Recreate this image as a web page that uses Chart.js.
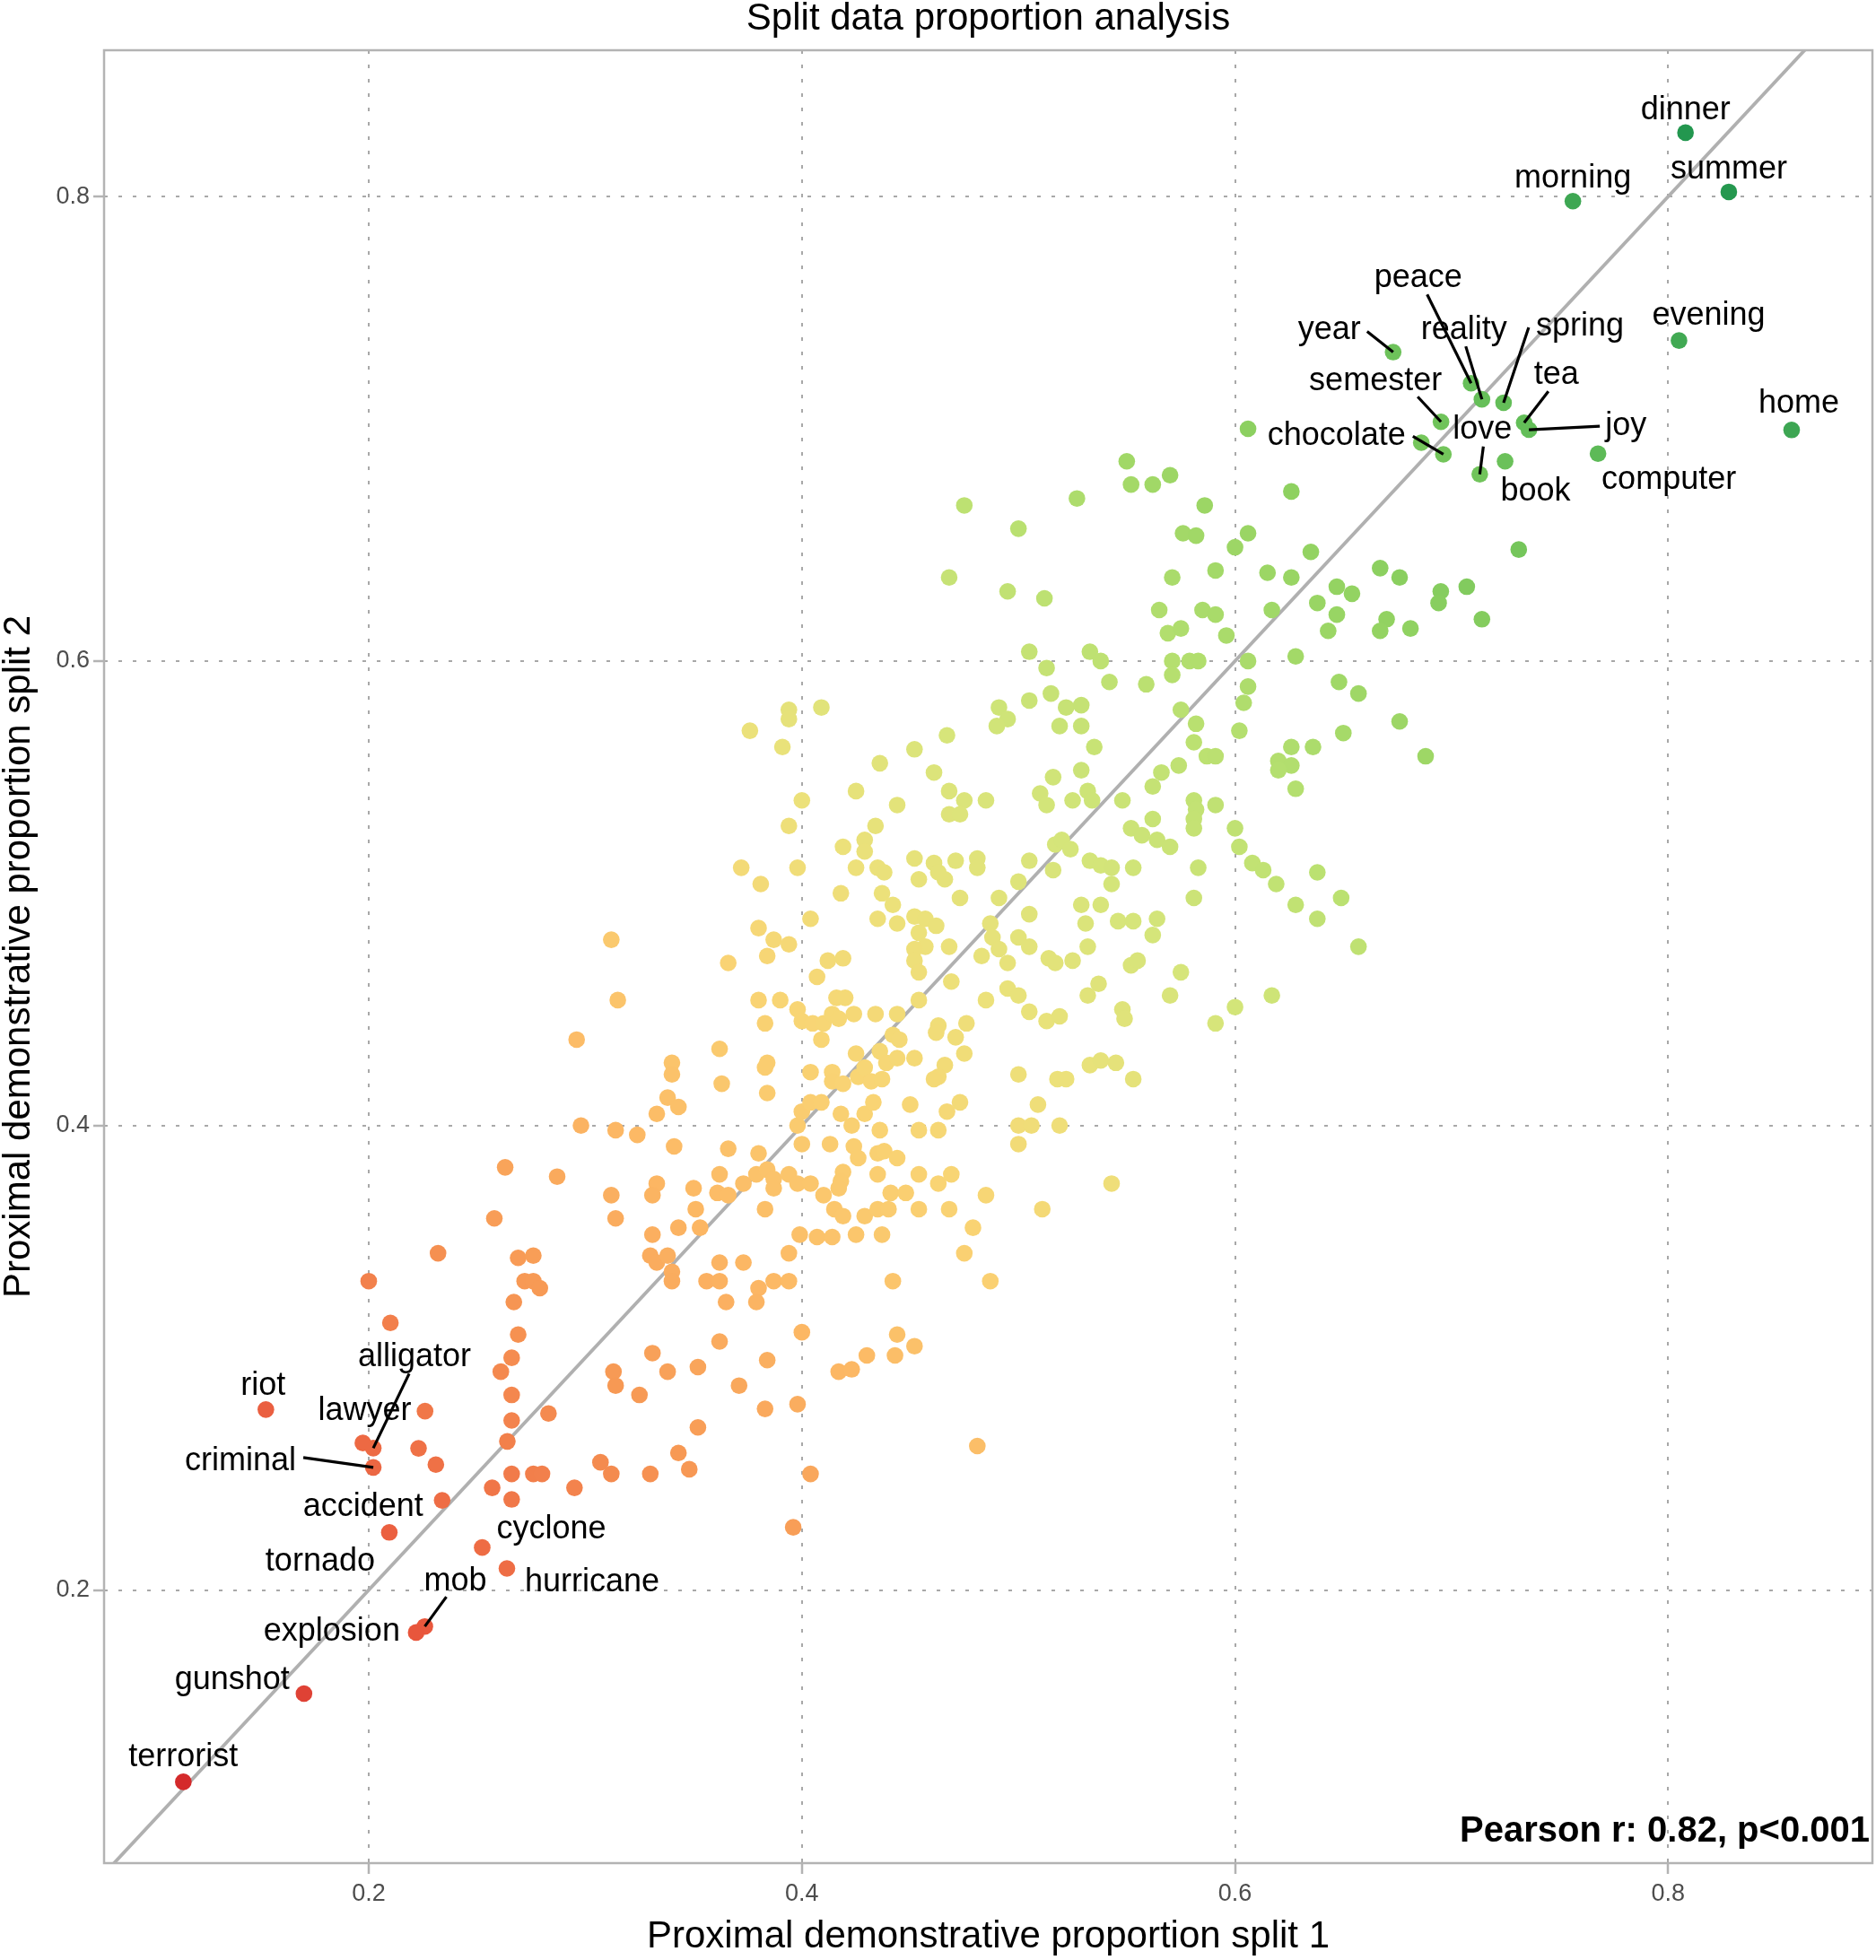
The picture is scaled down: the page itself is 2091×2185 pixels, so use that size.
<!DOCTYPE html>
<html>
<head>
<meta charset="utf-8">
<title>Split data proportion analysis</title>
<script src="https://cdn.jsdelivr.net/npm/chart.js@4.4.1/dist/chart.umd.min.js"></script>
<style>
  html, body { margin: 0; padding: 0; background: #fff; }
  canvas { display: block; }
</style>
</head>
<body>
<canvas id="propChart" width="2091" height="2185"></canvas>
<script>
// axis settings
const xLimits = [0.0778, 0.8943];
const yLimits = [0.0824, 0.8630];
const tickValues = [0.2, 0.4, 0.6, 0.8];
const tickLabels = ['0.2', '0.4', '0.6', '0.8'];

// unlabelled words: [split 1, split 2]
const cloudPoints = [
  // upper cloud
  [0.606,0.700],[0.626,0.673],[0.731,0.648],[0.550,0.686],[0.552,0.676],[0.562,0.676],[0.570,0.680],[0.475,0.667],[0.527,0.670],[0.500,0.657],
  [0.586,0.667],[0.576,0.655],[0.582,0.654],[0.606,0.655],[0.600,0.649],[0.635,0.647],[0.468,0.636],[0.495,0.630],[0.512,0.627],[0.571,0.636],
  [0.591,0.639],[0.615,0.638],[0.626,0.636],[0.667,0.640],[0.676,0.636],[0.647,0.632],[0.654,0.629],[0.695,0.630],[0.694,0.625],[0.707,0.632],
  [0.714,0.618],[0.565,0.622],[0.585,0.622],[0.591,0.620],[0.617,0.622],[0.638,0.625],[0.647,0.620],[0.670,0.618],[0.643,0.613],[0.667,0.613],
  [0.681,0.614],[0.569,0.612],[0.575,0.614],[0.596,0.611],[0.505,0.604],[0.513,0.597],[0.533,0.604],[0.538,0.600],[0.571,0.600],[0.579,0.600],
  [0.583,0.600],[0.606,0.600],[0.628,0.602],[0.571,0.594],[0.542,0.591],[0.559,0.590],[0.606,0.589],[0.648,0.591],[0.657,0.586],[0.515,0.586],
  [0.505,0.583],[0.491,0.580],[0.522,0.580],[0.529,0.581],[0.575,0.579],[0.604,0.582],[0.495,0.575],[0.490,0.572],[0.519,0.572],[0.529,0.572],
  [0.582,0.573],[0.602,0.570],[0.676,0.574],[0.650,0.569],[0.467,0.568],[0.535,0.563],[0.581,0.565],[0.587,0.559],[0.591,0.559],[0.626,0.563],
  [0.636,0.563],[0.688,0.559],[0.620,0.557],[0.626,0.555],[0.620,0.553],[0.628,0.545],[0.529,0.553],[0.516,0.550],[0.574,0.555],[0.566,0.552],
  [0.562,0.546],[0.468,0.544],[0.475,0.540],[0.485,0.540],[0.510,0.543],[0.513,0.538],[0.525,0.540],[0.532,0.544],[0.534,0.540],[0.548,0.540],
  [0.581,0.540],[0.582,0.536],[0.591,0.538],[0.468,0.534],[0.473,0.534],[0.581,0.532],[0.581,0.528],[0.562,0.532],[0.552,0.528],[0.557,0.525],
  [0.564,0.523],[0.570,0.520],[0.600,0.528],[0.602,0.520],[0.517,0.521],[0.520,0.523],[0.524,0.519],[0.471,0.514],[0.481,0.515],[0.481,0.511],
  [0.505,0.514],[0.533,0.514],[0.538,0.512],[0.543,0.511],[0.553,0.511],[0.583,0.511],[0.608,0.513],[0.613,0.510],[0.619,0.504],[0.638,0.509],
  [0.516,0.510],[0.466,0.506],[0.500,0.505],[0.543,0.504],[0.473,0.498],[0.491,0.498],[0.581,0.498],[0.649,0.498],[0.628,0.495],[0.529,0.495],
  [0.538,0.495],[0.505,0.491],[0.531,0.487],[0.546,0.488],[0.553,0.488],[0.564,0.489],[0.638,0.489],[0.487,0.487],[0.562,0.482],[0.488,0.481],
  [0.500,0.481],[0.505,0.477],[0.491,0.476],[0.532,0.477],[0.657,0.477],[0.468,0.477],[0.483,0.473],[0.495,0.470],[0.514,0.472],[0.517,0.470],
  [0.525,0.471],[0.552,0.469],[0.555,0.471],[0.575,0.466],[0.469,0.462],[0.537,0.461],[0.495,0.459],[0.500,0.456],[0.532,0.456],[0.570,0.456],
  [0.617,0.456],[0.600,0.451],[0.548,0.450],[0.485,0.454],[0.505,0.449],[0.513,0.445],[0.519,0.447],[0.476,0.444],[0.549,0.446],[0.591,0.444],
  [0.686,0.694],
  // middle cloud
  [0.394,0.579],[0.394,0.575],[0.409,0.580],[0.376,0.570],[0.391,0.563],[0.400,0.540],[0.394,0.529],[0.436,0.556],[0.452,0.562],[0.461,0.552],
  [0.425,0.544],[0.444,0.538],[0.434,0.529],[0.419,0.520],[0.429,0.523],[0.429,0.518],[0.425,0.511],[0.435,0.511],[0.438,0.509],[0.452,0.515],
  [0.461,0.513],[0.463,0.509],[0.454,0.506],[0.398,0.511],[0.372,0.511],[0.381,0.504],[0.418,0.500],[0.437,0.500],[0.442,0.495],[0.404,0.489],
  [0.380,0.485],[0.435,0.489],[0.444,0.487],[0.452,0.490],[0.457,0.489],[0.462,0.486],[0.387,0.480],[0.394,0.478],[0.384,0.473],[0.366,0.470],
  [0.454,0.483],[0.457,0.477],[0.452,0.476],[0.412,0.471],[0.419,0.472],[0.452,0.471],[0.454,0.466],[0.407,0.464],[0.312,0.480],[0.315,0.454],
  [0.296,0.437],[0.380,0.454],[0.390,0.454],[0.398,0.450],[0.416,0.455],[0.420,0.455],[0.383,0.444],[0.400,0.445],[0.405,0.444],[0.410,0.444],
  [0.414,0.448],[0.417,0.446],[0.424,0.448],[0.434,0.448],[0.444,0.448],[0.454,0.454],[0.409,0.437],[0.463,0.443],[0.462,0.440],[0.442,0.439],
  [0.445,0.437],[0.471,0.438],[0.475,0.431],[0.362,0.433],[0.340,0.427],[0.340,0.422],[0.363,0.418],[0.384,0.427],[0.383,0.425],[0.384,0.414],
  [0.425,0.431],[0.436,0.432],[0.439,0.427],[0.444,0.429],[0.452,0.429],[0.466,0.426],[0.463,0.421],[0.461,0.420],[0.404,0.423],[0.414,0.423],
  [0.414,0.419],[0.419,0.418],[0.426,0.421],[0.429,0.425],[0.432,0.419],[0.437,0.420],[0.500,0.422],[0.518,0.420],[0.522,0.420],[0.553,0.420],
  [0.533,0.426],[0.538,0.428],[0.545,0.427],[0.509,0.409],[0.338,0.412],[0.343,0.408],[0.333,0.405],[0.298,0.400],[0.314,0.398],[0.324,0.396],
  [0.341,0.391],[0.287,0.378],[0.366,0.390],[0.380,0.388],[0.379,0.379],[0.384,0.381],[0.387,0.377],[0.387,0.373],[0.394,0.379],[0.398,0.375],
  [0.362,0.379],[0.333,0.375],[0.331,0.370],[0.312,0.370],[0.314,0.360],[0.350,0.373],[0.361,0.371],[0.366,0.370],[0.373,0.375],[0.351,0.364],
  [0.343,0.356],[0.353,0.356],[0.331,0.353],[0.383,0.364],[0.330,0.344],[0.333,0.341],[0.338,0.344],[0.340,0.337],[0.340,0.333],[0.362,0.341],
  [0.373,0.341],[0.356,0.333],[0.362,0.333],[0.380,0.330],[0.387,0.333],[0.394,0.333],[0.394,0.345],[0.400,0.392],[0.398,0.400],[0.400,0.406],
  [0.404,0.410],[0.409,0.410],[0.418,0.405],[0.423,0.400],[0.429,0.405],[0.433,0.410],[0.413,0.392],[0.424,0.391],[0.426,0.386],[0.436,0.398],
  [0.435,0.388],[0.438,0.389],[0.444,0.386],[0.450,0.409],[0.454,0.398],[0.463,0.398],[0.467,0.406],[0.473,0.410],[0.419,0.380],[0.418,0.376],
  [0.404,0.375],[0.410,0.370],[0.435,0.379],[0.417,0.373],[0.415,0.364],[0.419,0.361],[0.429,0.361],[0.435,0.364],[0.440,0.364],[0.441,0.371],
  [0.448,0.371],[0.454,0.379],[0.454,0.364],[0.463,0.375],[0.469,0.379],[0.468,0.364],[0.485,0.370],[0.479,0.356],[0.475,0.345],[0.511,0.364],
  [0.543,0.375],[0.487,0.333],[0.442,0.333],[0.399,0.353],[0.407,0.352],[0.414,0.352],[0.425,0.353],[0.437,0.353],[0.500,0.400],[0.506,0.400],
  [0.519,0.400],[0.500,0.392],
  // lower cloud
  [0.263,0.382],[0.258,0.360],[0.232,0.345],[0.200,0.333],[0.210,0.315],[0.269,0.343],[0.276,0.344],[0.272,0.333],[0.276,0.333],[0.279,0.330],
  [0.267,0.324],[0.269,0.310],[0.266,0.300],[0.261,0.294],[0.266,0.284],[0.266,0.273],[0.264,0.264],[0.266,0.250],[0.257,0.244],[0.266,0.239],
  [0.276,0.250],[0.280,0.250],[0.283,0.276],[0.295,0.244],[0.226,0.277],[0.223,0.261],[0.231,0.254],[0.307,0.255],[0.312,0.250],[0.330,0.250],
  [0.343,0.259],[0.348,0.252],[0.404,0.250],[0.396,0.227],[0.352,0.270],[0.383,0.278],[0.398,0.280],[0.325,0.284],[0.313,0.294],[0.314,0.288],
  [0.338,0.294],[0.331,0.302],[0.352,0.296],[0.362,0.307],[0.371,0.288],[0.384,0.299],[0.400,0.311],[0.417,0.294],[0.423,0.295],[0.430,0.301],
  [0.443,0.301],[0.444,0.310],[0.452,0.305],[0.379,0.324],[0.365,0.324],[0.481,0.262]
];

// labelled words
const wordNames = ['dinner', 'morning', 'summer', 'evening', 'home', 'year', 'peace', 'reality', 'spring', 'tea',
  'joy', 'semester', 'chocolate', 'love', 'book', 'computer', 'riot', 'alligator', 'lawyer', 'criminal',
  'accident', 'tornado', 'cyclone', 'hurricane', 'mob', 'explosion', 'gunshot', 'terrorist'];
const wordSplit1 = [0.808, 0.756, 0.828, 0.805, 0.857, 0.673, 0.709, 0.714, 0.724, 0.7335,
  0.7357, 0.6951, 0.6962, 0.713, 0.7247, 0.7676, 0.1525, 0.2021, 0.1973, 0.2021,
  0.2339, 0.2095, 0.2524, 0.2638, 0.2259, 0.2219, 0.1701, 0.1144];
const wordSplit2 = [0.8275, 0.798, 0.802, 0.738, 0.6995, 0.733, 0.7196, 0.7127, 0.7112, 0.7026,
  0.6996, 0.703, 0.689, 0.6804, 0.686, 0.6893, 0.2777, 0.2611, 0.2633, 0.2528,
  0.2386, 0.2248, 0.2183, 0.2093, 0.1843, 0.1817, 0.1554, 0.1174];

const statText = 'Pearson r: 0.82, p<0.001';

// where each word label sits relative to its dot: [text dx, baseline dy, leader dx, leader dy]
const labelOffsets = {
  dinner: [0, -15], morning: [0, -15], summer: [0, -15], evening: [33, -18], home: [8, -19],
  year: [-71, -15, -29, -23], peace: [-59, -107, -49, -99], reality: [-20, -67, -18, -59],
  spring: [85, -75, 28, -84], tea: [36, -43, 27, -35], joy: [108, 6, 79, -4],
  semester: [-73, -35, -26, -28], chocolate: [-119, -10, -34, -20], love: [3, -40, 4, -31],
  book: [34, 44], computer: [79, 39],
  riot: [-3, -16], alligator: [46, -91, 40, -83], lawyer: [2, -26], criminal: [-148, 3, -78, -11],
  accident: [-88, 17], tornado: [-77, 43], cyclone: [77, -10], hurricane: [95, 26],
  mob: [34, -40, 24, -33], explosion: [-94, 9], gunshot: [-80, -5], terrorist: [0, -17]
};

const FONT = "'Liberation Sans', Arial, Helvetica, sans-serif";

// red - yellow - green ramp on the mean of both splits
const colourStops = [
  [0.115, [212, 42, 43]],
  [0.20, [232, 85, 60]],
  [0.25, [240, 118, 72]],
  [0.30, [247, 152, 84]],
  [0.36, [252, 185, 101]],
  [0.42, [249, 212, 116]],
  [0.47, [236, 225, 122]],
  [0.52, [214, 229, 122]],
  [0.58, [184, 224, 112]],
  [0.65, [142, 209, 96]],
  [0.72, [98, 189, 88]],
  [0.82, [34, 150, 79]]
];

function rampColour(v) {
  if (v <= colourStops[0][0]) return 'rgb(' + colourStops[0][1].join(',') + ')';
  for (let i = 1; i < colourStops.length; i++) {
    const [v1, c1] = colourStops[i];
    const [v0, c0] = colourStops[i - 1];
    if (v <= v1) {
      const t = (v - v0) / (v1 - v0);
      const c = c0.map((k, j) => Math.round(k + (c1[j] - k) * t));
      return 'rgb(' + c.join(',') + ')';
    }
  }
  return 'rgb(' + colourStops[colourStops.length - 1][1].join(',') + ')';
}

const wordPoints = wordNames.map((w, i) => ({ x: wordSplit1[i], y: wordSplit2[i] }));
const allPoints = cloudPoints.map(p => ({ x: p[0], y: p[1] })).concat(wordPoints);
const pointColours = allPoints.map(p => rampColour((p.x + p.y) / 2));
const firstWord = cloudPoints.length;

// y = x reference line across the panel
const lineLo = Math.min(xLimits[0], yLimits[0]);
const lineHi = Math.max(xLimits[1], yLimits[1]);
const identityLine = [{ x: lineLo, y: lineLo }, { x: lineHi, y: lineHi }];

// panel border drawn on all four sides
const panelBorder = {
  id: 'panelBorder',
  afterDatasetsDraw(chart) {
    const { ctx, chartArea: a } = chart;
    ctx.save();
    ctx.strokeStyle = '#b3b3b3';
    ctx.lineWidth = 2.5;
    ctx.strokeRect(a.left, a.top, a.right - a.left, a.bottom - a.top);
    ctx.restore();
  }
};

// word labels with leader lines, and the correlation note
const wordLabels = {
  id: 'wordLabels',
  afterDatasetsDraw(chart) {
    const { ctx, chartArea: a } = chart;
    const meta = chart.getDatasetMeta(0);
    ctx.save();
    ctx.font = '36px ' + FONT;
    ctx.fillStyle = '#000';
    ctx.strokeStyle = '#000';
    ctx.lineWidth = 3.2;
    ctx.textAlign = 'center';
    ctx.textBaseline = 'alphabetic';
    wordNames.forEach((w, i) => {
      const el = meta.data[firstWord + i];
      const off = labelOffsets[w];
      if (off.length > 2) {
        ctx.beginPath();
        ctx.moveTo(el.x, el.y);
        ctx.lineTo(el.x + off[2], el.y + off[3]);
        ctx.stroke();
      }
      ctx.fillText(w, el.x + off[0], el.y + off[1]);
    });
    ctx.font = 'bold 40px ' + FONT;
    ctx.textAlign = 'right';
    ctx.fillText(statText, a.right - 3, a.bottom - 24);
    ctx.restore();
  }
};

function axisOptions(limits, titleText, isX) {
  return {
    type: 'linear',
    min: limits[0],
    max: limits[1],
    afterFit: s => { if (isX) s.height = 108; else s.width = 116; },
    afterBuildTicks: s => { s.ticks = tickValues.map(v => ({ value: v })); },
    ticks: {
      font: { family: FONT, size: 27 },
      color: '#4d4d4d',
      padding: isX ? 6 : 4,
      callback: (v) => tickLabels[tickValues.indexOf(v)] ?? v.toFixed(1)
    },
    grid: {
      color: '#a8a8a8',
      lineWidth: 2,
      tickLength: 12,
      tickColor: '#b3b3b3',
      tickWidth: 2.5,
      tickBorderDash: []
    },
    border: { display: false, dash: [4, 12] },
    title: {
      display: true,
      text: titleText,
      color: '#000',
      font: { family: FONT, size: 42, lineHeight: 1 },
      padding: isX ? { top: 0, bottom: 5 } : { top: 0, bottom: 0 }
    }
  };
}

new Chart(document.getElementById('propChart'), {
  type: 'scatter',
  data: {
    datasets: [
      {
        label: 'words',
        data: allPoints,
        pointRadius: 9.3,
        pointHoverRadius: 9.3,
        pointBorderWidth: 0,
        pointBackgroundColor: pointColours,
        order: 0
      },
      {
        type: 'line',
        label: 'y = x',
        data: identityLine,
        borderColor: '#b0b0b0',
        borderWidth: 3.8,
        pointRadius: 0,
        fill: false,
        order: 1
      }
    ]
  },
  options: {
    responsive: false,
    animation: false,
    devicePixelRatio: 1,
    events: [],
    layout: { autoPadding: false, padding: { top: 0, right: 4, bottom: 0, left: 0 } },
    plugins: {
      legend: { display: false },
      tooltip: { enabled: false },
      title: {
        display: true,
        fullSize: false,
        text: 'Split data proportion analysis',
        color: '#000',
        font: { family: FONT, size: 42, weight: 'normal', lineHeight: 1 },
        padding: { top: 0, bottom: 14 }
      }
    },
    scales: {
      x: axisOptions(xLimits, 'Proximal demonstrative proportion split 1', true),
      y: axisOptions(yLimits, 'Proximal demonstrative proportion split 2', false)
    }
  },
  plugins: [panelBorder, wordLabels]
});
</script>
</body>
</html>
